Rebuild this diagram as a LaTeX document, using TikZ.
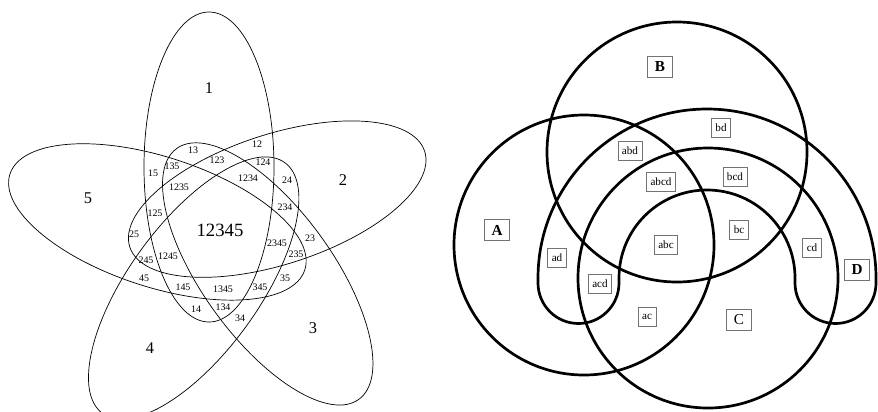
\documentclass[tikz,border=0pt]{standalone}
\usepackage{fontspec}
\setmainfont{Liberation Serif}

\begin{document}
\begin{tikzpicture}[x=0.03cm,y=0.03cm,
    petal/.style={line width=0.6pt},
    ring/.style={line width=2.3pt},
    big/.style={font=\fontsize{14}{16}\selectfont},
    small/.style={font=\fontsize{8.5}{10}\selectfont,inner sep=0pt},
    tag/.style={draw=black!55,line width=0.6pt,inner xsep=3.5pt,minimum height=0.55cm,
      font=\fontsize{9.5}{11}\selectfont},
    settag/.style={tag,minimum width=0.75cm,minimum height=0.62cm,font=\fontsize{13}{15}\selectfont}]
  \useasboundingbox (0,0) rectangle (878,-411);

  % five rotated ellipses
  \foreach \k in {0,...,4}
    \draw[petal,rotate around={-72*\k:(221,-230)}] (209,-167) ellipse [x radius=65,y radius=155];

  \foreach \t/\x/\y in {1/209/88, 2/343/180, 3/313/328, 4/150/348, 5/88/198}
    \node[big] (p\t) at (\x,-\y) {\t};
  \node[font=\fontsize{16}{18}\selectfont] (p12345) at (220,-230) {12345};
  \foreach \t/\x/\y in {13/193/150, 12/257/144, 123/217/160, 124/263/162, 135/172/166,
      15/153/173, 1234/248/178, 24/287/180, 1235/179/187, 234/285/207, 125/155/213,
      25/134/234, 23/310/238, 2345/277/243, 235/296/254, 245/146/260, 1245/168/256,
      45/144/278, 145/183/287, 1345/223/289, 345/260/287, 35/285/278, 14/196/309,
      134/223/307, 34/240/318}
    \node[small] (s\t) at (\x,-\y) {\t};

  % four sets, D bent round C
  \draw[ring] (584,-245) circle [radius=130];
  \draw[ring] (677,-152) circle [radius=130];
  \draw[ring] (708,-278) circle [radius=130];
  \draw[ring] (876,-278) arc [start angle=0,end angle=180,radius=169] -- ++(0,-5)
    arc [start angle=180,end angle=360,radius=40.5] -- ++(0,5)
    arc [start angle=180,end angle=0,radius=88] -- ++(0,-5)
    arc [start angle=180,end angle=360,radius=40.5] -- cycle;

  \node[settag] (A) at (497,-230) {\textbf{A}};
  \node[settag] (B) at (660,-67) {\textbf{B}};
  \node[settag] (C) at (739,-320) {C};
  \node[settag] (D) at (857,-270) {\textbf{D}};
  \foreach \t/\x/\y in {bd/721/128, abd/630/151, abcd/661/182, bcd/735/177, bc/739/230,
      abc/666/245, ad/557/258, cd/812/248, acd/600/284, ac/647/317}
    \node[tag] (\t) at (\x,-\y) {\t};
\end{tikzpicture}
\end{document}
